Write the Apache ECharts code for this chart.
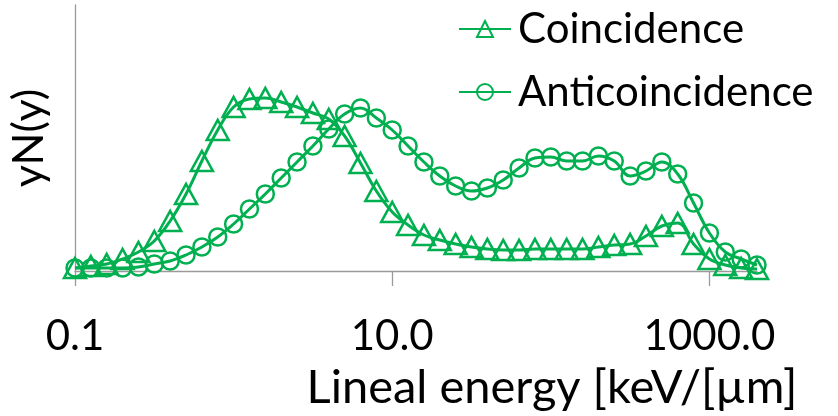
<!DOCTYPE html>
<html>
<head>
<meta charset="utf-8">
<script src="https://cdn.jsdelivr.net/npm/echarts@6/dist/echarts.min.js"></script>
<style>
  html, body { margin: 0; padding: 0; background: #fff; }
  #chart { width: 838px; height: 416px; }
</style>
</head>
<body>
<div id="chart"></div>
<script>
// lineal energy bins (keV/um), 10 per decade
const energy = [
  0.1, 0.126, 0.158, 0.2, 0.251, 0.316, 0.398, 0.501, 0.631, 0.794,
  1, 1.26, 1.58, 2, 2.51, 3.16, 3.98, 5.01, 6.31, 7.94,
  10, 12.6, 15.8, 20, 25.1, 31.6, 39.8, 50.1, 63.1, 79.4,
  100, 126, 158, 200, 251, 316, 398, 501, 631, 794,
  1000, 1260, 1580, 2000
]
const coincidence = [
  3, 5, 7, 12, 19, 30, 50, 77, 110, 141,
  164, 172, 173, 169, 164, 158, 152, 135, 108, 80,
  59, 46, 36, 31, 27, 24, 22, 21, 21, 22,
  22, 22, 22, 24, 26, 27, 35, 45, 48, 27,
  12, 6, 3, 2
]
const anticoincidence = [
  3, 3, 3, 3, 4, 7, 10, 16, 24, 34,
  47, 62, 77, 93, 109, 125, 142, 157, 163, 153,
  141, 125, 109, 95, 85, 80, 83, 91, 103, 113,
  114, 110, 110, 115, 110, 95, 100, 109, 97, 68,
  38, 19, 12, 6
]
const tickIndex = [0, 20, 40]
const tickLabels = ['0.1', '10.0', '1000.0']

const green = '#00B050'
const axisGray = '#9a9a9a'
const font = 'Lato, "Noto Sans", sans-serif'

const chart = echarts.init(document.getElementById('chart'))

function seriesOf(name, data, symbol, size) {
  return {
    name: name,
    type: 'line',
    data: data,
    smooth: 0.4,
    symbol: symbol,
    symbolSize: size,
    showAllSymbol: true,
    lineStyle: { color: green, width: 3 },
    itemStyle: { color: 'rgba(0,0,0,0)', borderColor: green, borderWidth: 2.5 },
    emphasis: { disabled: true },
    animation: false
  }
}

chart.setOption({
  animation: false,
  textStyle: { fontFamily: font },
  grid: { left: 69, right: 81, top: 5, bottom: 145 },
  legend: {
    orient: 'vertical',
    left: 453,
    top: 2,
    itemWidth: 52,
    itemHeight: 20,
    itemGap: 19,
    textStyle: { fontFamily: font, fontSize: 42, color: '#000', lineHeight: 44, padding: [0, 0, 0, 2] },
    data: ['Coincidence', 'Anticoincidence']
  },
  xAxis: {
    type: 'category',
    data: energy,
    boundaryGap: false,
    axisLine: { lineStyle: { color: axisGray, width: 1.3 } },
    axisTick: {
      length: 15,
      lineStyle: { color: axisGray, width: 1.3 },
      interval: function (i) { return tickIndex.indexOf(i) >= 0 }
    },
    axisLabel: {
      interval: function (i) { return tickIndex.indexOf(i) >= 0 },
      formatter: function (v, i) { return tickLabels[tickIndex.indexOf(i)] },
      margin: 44,
      fontSize: 42,
      color: '#000',
      fontFamily: font
    },
    name: 'Lineal energy [keV/[µm]',
    nameLocation: 'middle',
    nameGap: 93,
    nameTextStyle: { fontSize: 47, color: '#000', fontFamily: font, padding: [0, 0, 0, 272] }
  },
  yAxis: {
    type: 'value',
    min: 0,
    max: 266,
    axisLine: { show: true, lineStyle: { color: axisGray, width: 1.3 } },
    axisTick: { show: false },
    axisLabel: { show: false },
    splitLine: { show: false },
    name: 'yN(y)',
    nameLocation: 'middle',
    nameGap: 24,
    nameTextStyle: { fontSize: 43, color: '#000', fontFamily: font }
  },
  series: [
    seriesOf('Coincidence', coincidence, 'triangle', [22, 20]),
    seriesOf('Anticoincidence', anticoincidence, 'circle', 17)
  ]
})
</script>
</body>
</html>
